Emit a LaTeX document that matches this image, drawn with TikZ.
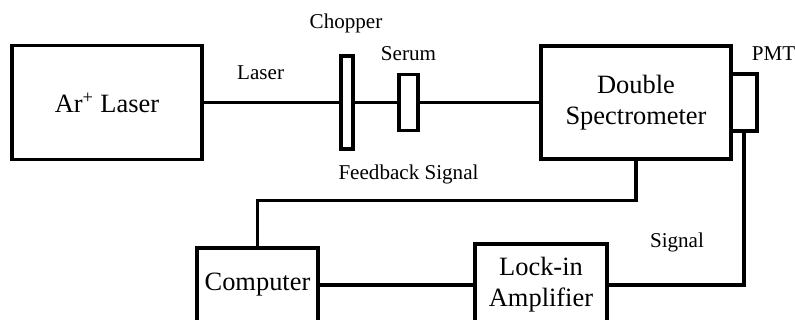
\documentclass[tikz,border=0pt]{standalone}
\usepackage{fontspec}
\setmainfont{Liberation Serif}
\begin{document}
\begin{tikzpicture}[
            line width=2.2pt,
            unit/.style={
                rectangle,
                draw,
                align=center,
                inner sep=0pt,
                font=\fontsize{18.8}{22}\selectfont
            },
            plate/.style={
                rectangle,
                draw,
                inner sep=0pt,
                minimum width=#1
            },
            tag/.style={
                anchor=base,
                inner sep=0pt,
                font=\fontsize{15}{18}\selectfont
            }
        ]

            \useasboundingbox (0, 0) rectangle (19.875, -8);

            \node[unit, minimum width=4.75cm, minimum height=2.85cm] (laser) at (2.675, -2.5625) {Ar\textsuperscript{+} Laser};
            \node[plate=0.3cm, minimum height=2.325cm] (chopper) at (8.675, -2.5625) {};
            \node[plate=0.475cm, minimum height=1.4cm] (serum) at (10.2125, -2.5625) {};
            \node[unit, minimum width=4.75cm, minimum height=2.825cm] (spec) at (15.9, -2.5625) {Double\\Spectrometer};
            \node[plate=0.65cm, minimum height=1.425cm] (pmt) at (18.6, -2.5625) {};

            \node[unit, minimum width=3.025cm, minimum height=1.85cm] (computer) at (6.4375, -7.125) {Computer};
            \node[unit, minimum width=3.3cm, minimum height=2.05cm] (lockin) at (13.525, -7.125) {Lock-in\\Amplifier};

            \node[tag] (choppertag) at (8.65, -0.725) {Chopper};
            \node[tag] (serumtag) at (10.2125, -1.525) {Serum};
            \node[tag] (pmttag) at (19.3375, -1.525) {PMT};

            \draw (laser.east) -- (chopper.west)
                node[tag, pos=0.42, yshift=0.5625cm] {Laser};
            \draw (chopper.east) -- (serum.west);
            \draw (serum.east) -- (spec.west);

            \draw (spec.south) -- ++(0, -1) -| (computer.north);
            \node[tag] (fbtag) at (10.2125, -4.5) {Feedback Signal};

            \draw (computer.east) -- (lockin.west);
            \draw (lockin.east) -| (pmt.south);
            \node[tag] (signaltag) at (16.925, -6.2) {Signal};

        \end{tikzpicture}
\end{document}
